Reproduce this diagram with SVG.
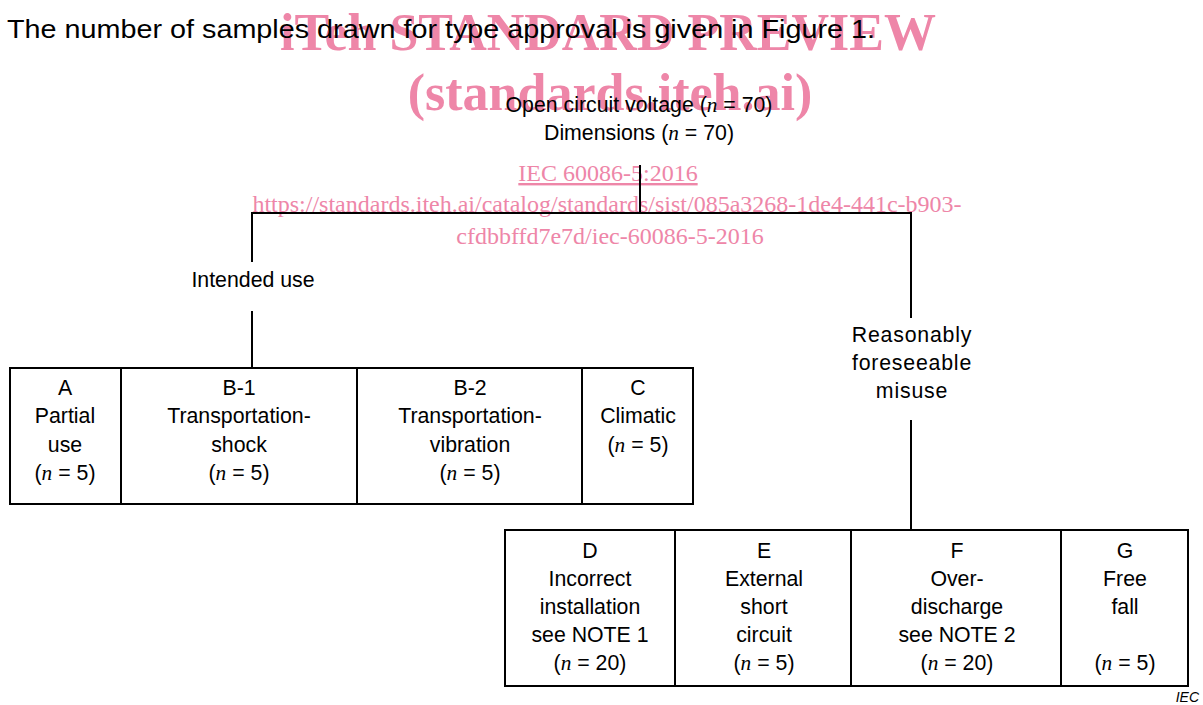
<svg xmlns="http://www.w3.org/2000/svg" width="1203" height="705" viewBox="0 0 1203 705">
<style>
.wm{font-family:"Liberation Serif",serif;fill:#ee86a8;}
.t{font-family:"Liberation Sans",Arial,sans-serif;font-size:21.3px;fill:#000;text-anchor:middle;}
.sp{letter-spacing:0.8px;}
.n{font-family:"Liberation Serif",serif;font-style:italic;}
.box{fill:none;stroke:#000;stroke-width:2;}
.ln{fill:none;stroke:#000;stroke-width:2;}
</style>
<rect width="1203" height="705" fill="#fff"/>
<g id="watermark">
<text class="wm" x="608" y="50" font-size="52" font-weight="bold" text-anchor="middle">iTeh STANDARD PREVIEW</text>
<text class="wm" x="610" y="110" font-size="52" font-weight="bold" text-anchor="middle">(standards.iteh.ai)</text>
<text class="wm" x="608" y="181" font-size="24" text-anchor="middle" text-decoration="underline">IEC 60086-5:2016</text>
<text class="wm" x="607" y="212" font-size="24" text-anchor="middle">https://standards.iteh.ai/catalog/standards/sist/085a3268-1de4-441c-b903-</text>
<text class="wm" x="610" y="244" font-size="24" text-anchor="middle">cfdbbffd7e7d/iec-60086-5-2016</text>
</g>
<text x="7" y="38" font-family="Liberation Sans,Arial,sans-serif" font-size="26.5" textLength="868" lengthAdjust="spacingAndGlyphs">The number of samples drawn for type approval is given in Figure 1.</text>
<g id="connectors">
<path class="ln" d="M640,165 V213 M252,213 H911 M252,212 V262 M252,311 V368 M911,212 V318 M911,420 V530"/>
</g>
<g id="root">
<text class="t" x="639" y="112">Open circuit voltage (<tspan class="n">n</tspan> = 70)</text>
<text class="t" x="639" y="140">Dimensions (<tspan class="n">n</tspan> = 70)</text>
</g>
<g id="intended">
<text class="t" x="253" y="287">Intended use</text>
</g>
<g id="misuse">
<text class="t sp" x="912" y="342">Reasonably</text>
<text class="t sp" x="912" y="370">foreseeable</text>
<text class="t sp" x="912" y="398">misuse</text>
</g>
<g id="A">
<rect class="box" x="10" y="368" width="111" height="136"/>
<text class="t" x="65" y="395">A</text>
<text class="t" x="65" y="423">Partial</text>
<text class="t" x="65" y="452">use</text>
<text class="t" x="65" y="480">(<tspan class="n">n</tspan> = 5)</text>
</g>
<g id="B1">
<rect class="box" x="121" y="368" width="236" height="136"/>
<text class="t" x="239" y="395">B-1</text>
<text class="t" x="239" y="423">Transportation-</text>
<text class="t" x="239" y="452">shock</text>
<text class="t" x="239" y="480">(<tspan class="n">n</tspan> = 5)</text>
</g>
<g id="B2">
<rect class="box" x="357" y="368" width="225" height="136"/>
<text class="t" x="470" y="395">B-2</text>
<text class="t" x="470" y="423">Transportation-</text>
<text class="t" x="470" y="452">vibration</text>
<text class="t" x="470" y="480">(<tspan class="n">n</tspan> = 5)</text>
</g>
<g id="C">
<rect class="box" x="582" y="368" width="111" height="136"/>
<text class="t" x="638" y="395">C</text>
<text class="t" x="638" y="423">Climatic</text>
<text class="t" x="638" y="452">(<tspan class="n">n</tspan> = 5)</text>
</g>
<g id="D">
<rect class="box" x="505" y="530" width="170" height="156"/>
<text class="t" x="590" y="558">D</text>
<text class="t" x="590" y="586">Incorrect</text>
<text class="t" x="590" y="614">installation</text>
<text class="t" x="590" y="642">see NOTE 1</text>
<text class="t" x="590" y="670">(<tspan class="n">n</tspan> = 20)</text>
</g>
<g id="E">
<rect class="box" x="675" y="530" width="176" height="156"/>
<text class="t" x="764" y="558">E</text>
<text class="t" x="764" y="586">External</text>
<text class="t" x="764" y="614">short</text>
<text class="t" x="764" y="642">circuit</text>
<text class="t" x="764" y="670">(<tspan class="n">n</tspan> = 5)</text>
</g>
<g id="F">
<rect class="box" x="851" y="530" width="210" height="156"/>
<text class="t" x="957" y="558">F</text>
<text class="t" x="957" y="586">Over-</text>
<text class="t" x="957" y="614">discharge</text>
<text class="t" x="957" y="642">see NOTE 2</text>
<text class="t" x="957" y="670">(<tspan class="n">n</tspan> = 20)</text>
</g>
<g id="G">
<rect class="box" x="1061" y="530" width="127" height="156"/>
<text class="t" x="1125" y="558">G</text>
<text class="t" x="1125" y="586">Free</text>
<text class="t" x="1125" y="614">fall</text>
<text class="t" x="1125" y="670">(<tspan class="n">n</tspan> = 5)</text>
</g>
<text x="1199" y="702" font-family="Liberation Sans,Arial,sans-serif" font-size="14" font-style="italic" text-anchor="end">IEC</text>
</svg>
